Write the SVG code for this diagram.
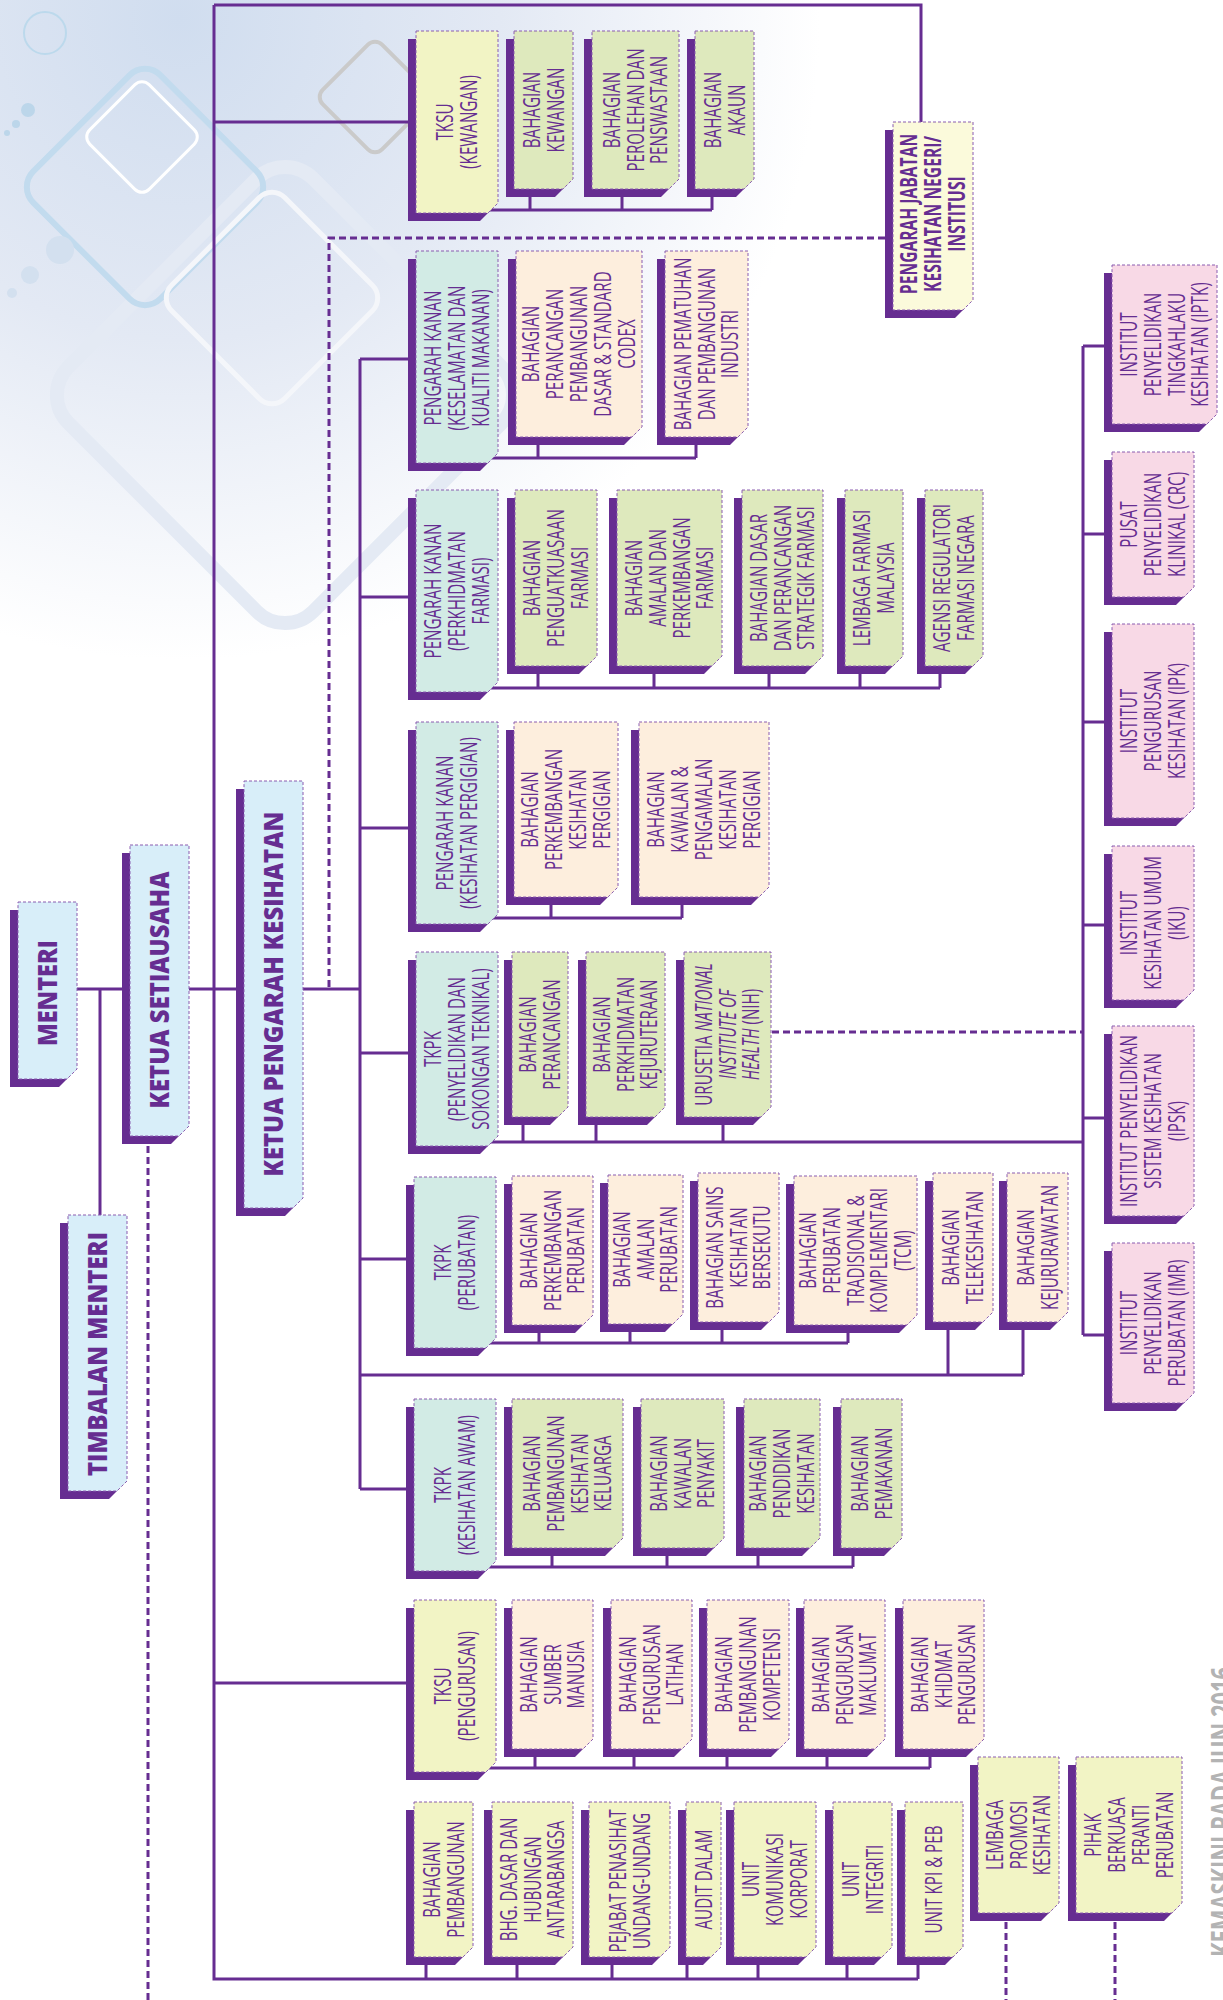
<svg xmlns="http://www.w3.org/2000/svg" width="1223" height="2000" viewBox="0 0 1223 2000">
<defs>
<radialGradient id="bgg" gradientUnits="userSpaceOnUse" cx="180" cy="20" r="640">
<stop offset="0" stop-color="#d0ddef"/>
<stop offset="0.5" stop-color="#e3e9f4"/>
<stop offset="1" stop-color="#ffffff"/>
</radialGradient>
<style>
.s{fill:#662d91}
.b{stroke:#8a5cb0;stroke-width:1;stroke-dasharray:3 2}
.bl{fill:#d8eef9}.ye{fill:#f2f4c5}.py{fill:#fbfadb}.te{fill:#d2ebe5}.gr{fill:#dee9bd}.pe{fill:#fdeedd}.pk{fill:#f8d9e6}
.t{font-family:"Open Sans","Liberation Sans",sans-serif;font-size:23px;fill:#662d91;text-anchor:middle}
.tb{font-family:"Open Sans","Liberation Sans",sans-serif;font-size:26px;font-weight:800;fill:#662d91;text-anchor:middle}
.ln{fill:none;stroke:#662d91;stroke-width:3}
.dl{fill:none;stroke:#662d91;stroke-width:3;stroke-dasharray:7 4}
</style>
</defs>
<rect width="1223" height="2000" fill="#ffffff"/>
<g id="background">
<rect x="0" y="0" width="860" height="720" fill="url(#bgg)"/>
<rect x="-173" y="-173" width="346" height="346" rx="40" transform="translate(285 395) rotate(45)" fill="none" stroke="#e4eaf4" stroke-width="14"/>
<rect x="-90" y="-90" width="180" height="180" rx="22" transform="translate(145 187) rotate(45)" fill="none" stroke="#c2dbee" stroke-width="6"/>
<rect x="-42" y="-42" width="84" height="84" rx="10" transform="translate(142 137) rotate(45)" fill="none" stroke="#ffffff" stroke-width="3"/>
<rect x="-80" y="-80" width="160" height="160" rx="18" transform="translate(272 298) rotate(45)" fill="none" stroke="#f4f6fa" stroke-width="5"/>
<rect x="-42" y="-42" width="84" height="84" rx="10" transform="translate(375 97) rotate(45)" fill="none" stroke="#cacaca" stroke-width="4"/>
<circle cx="45" cy="33" r="21" fill="none" stroke="#bcd9ec" stroke-width="2"/>
<circle cx="28" cy="110" r="7" fill="#bcd6ea"/>
<circle cx="16" cy="124" r="4" fill="#bcd6ea"/>
<circle cx="7" cy="133" r="3" fill="#bcd6ea"/>
<circle cx="60" cy="250" r="14" fill="#d3e0ef"/>
<circle cx="30" cy="275" r="9" fill="#d3e0ef"/>
<circle cx="12" cy="293" r="5" fill="#d3e0ef"/>
</g>
<g id="connectors">
<path class="ln" d="M214 5H921V122"/>
<path class="ln" d="M214 5V1979H918"/>
<path class="ln" d="M214 122H408"/>
<path class="ln" d="M214 1683H406"/>
<path class="ln" d="M77 989H360"/>
<path class="ln" d="M100 989V1215"/>
<path class="ln" d="M360 359V1489"/>
<path class="ln" d="M360 359H408M360 597H408M360 828H408M360 1053H408M360 1259H406M360 1489H406"/>
<path class="ln" d="M360 1375H1023"/>
<path class="ln" d="M490 210H712M530 189V210M622 189V210M712 189V210"/>
<path class="ln" d="M490 458H696M538 437V458M696 437V458"/>
<path class="ln" d="M490 688H940M538 666V688M654 666V688M769 666V688M860 666V688M940 666V688"/>
<path class="ln" d="M490 918H682M551 897V918M682 897V918"/>
<path class="ln" d="M490 1142H1083M523 1117V1142M596 1117V1142M723 1117V1142"/>
<path class="ln" d="M488 1343H848M539 1325V1343M630 1324V1343M722 1322V1343M848 1325V1343"/>
<path class="ln" d="M948 1322V1375M1023 1322V1375"/>
<path class="ln" d="M488 1567H853M552 1548V1567M667 1548V1567M758 1548V1567M853 1548V1567"/>
<path class="ln" d="M488 1768H930M535 1749V1768M634 1749V1768M727 1749V1768M827 1749V1768M930 1749V1768"/>
<path class="ln" d="M426 1957V1979M517 1957V1979M612 1957V1979M687 1957V1979M758 1957V1979M847 1957V1979M918 1957V1979"/>
<path class="ln" d="M1083 346V1335M1083 346H1104M1083 534H1104M1083 722H1104M1083 925H1104M1083 1118H1104M1083 1335H1104"/>
<path class="dl" d="M329 987V238H885"/>
<path class="dl" d="M148 1146V2000"/>
<path class="dl" d="M772 1032H1083"/>
<path class="dl" d="M1006 1922V2000"/>
<path class="dl" d="M1115 1922V2000"/>
</g>
<g id="menteri"><path class="s" d="M10 910H69V1077L59 1087H10Z"/><path class="b bl" d="M18 902H77V1069L67 1079H18Z"/><g transform="translate(47.5 993) rotate(-90)"><text class="tb" x="0" y="9" textLength="106" lengthAdjust="spacingAndGlyphs">MENTERI</text></g></g>
<g id="ketua-setiausaha"><path class="s" d="M122 853H181V1134L171 1144H122Z"/><path class="b bl" d="M130 845H189V1126L179 1136H130Z"/><g transform="translate(159.5 990) rotate(-90)"><text class="tb" x="0" y="9" textLength="237" lengthAdjust="spacingAndGlyphs">KETUA SETIAUSAHA</text></g></g>
<g id="ketua-pengarah-kesihatan"><path class="s" d="M236 789H295V1206L285 1216H236Z"/><path class="b bl" d="M244 781H303V1198L293 1208H244Z"/><g transform="translate(274 994) rotate(-90)"><text class="tb" x="0" y="9" textLength="365" lengthAdjust="spacingAndGlyphs">KETUA PENGARAH KESIHATAN</text></g></g>
<g id="timbalan-menteri"><path class="s" d="M60 1223H119V1489L109 1499H60Z"/><path class="b bl" d="M68 1215H127V1481L117 1491H68Z"/><g transform="translate(97.5 1354) rotate(-90)"><text class="tb" x="0" y="9" textLength="244" lengthAdjust="spacingAndGlyphs">TIMBALAN MENTERI</text></g></g>
<g id="tksu-kewangan"><path class="s" d="M408 39H490V211L480 221H408Z"/><path class="b ye" d="M416 31H498V203L488 213H416Z"/><g transform="translate(457 122) rotate(-90) scale(.66 1)"><text class="t"><tspan x="0" y="-4">TKSU</tspan><tspan x="0" y="20">(KEWANGAN)</tspan></text></g></g>
<g id="bhg-kewangan"><path class="s" d="M506 39H565V187L555 197H506Z"/><path class="b gr" d="M514 31H573V179L563 189H514Z"/><g transform="translate(543.5 110) rotate(-90) scale(.66 1)"><text class="t"><tspan x="0" y="-4">BAHAGIAN</tspan><tspan x="0" y="20">KEWANGAN</tspan></text></g></g>
<g id="bhg-perolehan"><path class="s" d="M584 39H671V187L661 197H584Z"/><path class="b gr" d="M592 31H679V179L669 189H592Z"/><g transform="translate(635.5 110) rotate(-90) scale(.66 1)"><text class="t"><tspan x="0" y="-16">BAHAGIAN</tspan><tspan x="0" y="8">PEROLEHAN DAN</tspan><tspan x="0" y="32">PENSWASTAAN</tspan></text></g></g>
<g id="bhg-akaun"><path class="s" d="M687 39H746V187L736 197H687Z"/><path class="b gr" d="M695 31H754V179L744 189H695Z"/><g transform="translate(724.5 110) rotate(-90) scale(.66 1)"><text class="t"><tspan x="0" y="-4">BAHAGIAN</tspan><tspan x="0" y="20">AKAUN</tspan></text></g></g>
<g id="pengarah-jabatan"><path class="s" d="M885 130H965V308L955 318H885Z"/><path class="b py" d="M893 122H973V300L963 310H893Z"/><g transform="translate(933 214) rotate(-90) scale(.68 1)"><text class="t" font-weight="700"><tspan x="0" y="-16">PENGARAH JABATAN</tspan><tspan x="0" y="8">KESIHATAN NEGERI/</tspan><tspan x="0" y="32">INSTITUSI</tspan></text></g></g>
<g id="pk-keselamatan"><path class="s" d="M408 259H490V461L480 471H408Z"/><path class="b te" d="M416 251H498V453L488 463H416Z"/><g transform="translate(457 358) rotate(-90) scale(.66 1)"><text class="t"><tspan x="0" y="-16">PENGARAH KANAN</tspan><tspan x="0" y="8">(KESELAMATAN DAN</tspan><tspan x="0" y="32">KUALITI MAKANAN)</tspan></text></g></g>
<g id="bhg-perancangan-codex"><path class="s" d="M508 259H634V435L624 445H508Z"/><path class="b pe" d="M516 251H642V427L632 437H516Z"/><g transform="translate(579 344) rotate(-90) scale(.66 1)"><text class="t"><tspan x="0" y="-40">BAHAGIAN</tspan><tspan x="0" y="-16">PERANCANGAN</tspan><tspan x="0" y="8">PEMBANGUNAN</tspan><tspan x="0" y="32">DASAR &amp; STANDARD</tspan><tspan x="0" y="56">CODEX</tspan></text></g></g>
<g id="bhg-pematuhan"><path class="s" d="M657 259H740V435L730 445H657Z"/><path class="b pe" d="M665 251H748V427L738 437H665Z"/><g transform="translate(706.5 344) rotate(-90) scale(.66 1)"><text class="t"><tspan x="0" y="-16">BAHAGIAN PEMATUHAN</tspan><tspan x="0" y="8">DAN PEMBANGUNAN</tspan><tspan x="0" y="32">INDUSTRI</tspan></text></g></g>
<g id="pk-farmasi"><path class="s" d="M408 498H490V690L480 700H408Z"/><path class="b te" d="M416 490H498V682L488 692H416Z"/><g transform="translate(457 591) rotate(-90) scale(.66 1)"><text class="t"><tspan x="0" y="-16">PENGARAH KANAN</tspan><tspan x="0" y="8">(PERKHIDMATAN</tspan><tspan x="0" y="32">FARMASI)</tspan></text></g></g>
<g id="bhg-penguatkuasaan"><path class="s" d="M507 498H589V664L579 674H507Z"/><path class="b gr" d="M515 490H597V656L587 666H515Z"/><g transform="translate(556 578) rotate(-90) scale(.66 1)"><text class="t"><tspan x="0" y="-16">BAHAGIAN</tspan><tspan x="0" y="8">PENGUATKUASAAN</tspan><tspan x="0" y="32">FARMASI</tspan></text></g></g>
<g id="bhg-amalan-farmasi"><path class="s" d="M609 498H714V664L704 674H609Z"/><path class="b gr" d="M617 490H722V656L712 666H617Z"/><g transform="translate(669.5 578) rotate(-90) scale(.66 1)"><text class="t"><tspan x="0" y="-28">BAHAGIAN</tspan><tspan x="0" y="-4">AMALAN DAN</tspan><tspan x="0" y="20">PERKEMBANGAN</tspan><tspan x="0" y="44">FARMASI</tspan></text></g></g>
<g id="bhg-dasar-farmasi"><path class="s" d="M734 498H815V664L805 674H734Z"/><path class="b gr" d="M742 490H823V656L813 666H742Z"/><g transform="translate(782.5 578) rotate(-90) scale(.66 1)"><text class="t"><tspan x="0" y="-16">BAHAGIAN DASAR</tspan><tspan x="0" y="8">DAN PERANCANGAN</tspan><tspan x="0" y="32">STRATEGIK FARMASI</tspan></text></g></g>
<g id="lembaga-farmasi"><path class="s" d="M837 498H895V664L885 674H837Z"/><path class="b gr" d="M845 490H903V656L893 666H845Z"/><g transform="translate(874 578) rotate(-90) scale(.66 1)"><text class="t"><tspan x="0" y="-4">LEMBAGA FARMASI</tspan><tspan x="0" y="20">MALAYSIA</tspan></text></g></g>
<g id="agensi-regulatori"><path class="s" d="M917 498H975V664L965 674H917Z"/><path class="b gr" d="M925 490H983V656L973 666H925Z"/><g transform="translate(954 578) rotate(-90) scale(.66 1)"><text class="t"><tspan x="0" y="-4">AGENSI REGULATORI</tspan><tspan x="0" y="20">FARMASI NEGARA</tspan></text></g></g>
<g id="pk-pergigian"><path class="s" d="M408 730H490V922L480 932H408Z"/><path class="b te" d="M416 722H498V914L488 924H416Z"/><g transform="translate(457 823) rotate(-90) scale(.66 1)"><text class="t"><tspan x="0" y="-4">PENGARAH KANAN</tspan><tspan x="0" y="20">(KESIHATAN PERGIGIAN)</tspan></text></g></g>
<g id="bhg-perkembangan-pergigian"><path class="s" d="M506 730H610V895L600 905H506Z"/><path class="b pe" d="M514 722H618V887L608 897H514Z"/><g transform="translate(566 809.5) rotate(-90) scale(.66 1)"><text class="t"><tspan x="0" y="-28">BAHAGIAN</tspan><tspan x="0" y="-4">PERKEMBANGAN</tspan><tspan x="0" y="20">KESIHATAN</tspan><tspan x="0" y="44">PERGIGIAN</tspan></text></g></g>
<g id="bhg-kawalan-pergigian"><path class="s" d="M631 730H761V895L751 905H631Z"/><path class="b pe" d="M639 722H769V887L759 897H639Z"/><g transform="translate(704 809.5) rotate(-90) scale(.66 1)"><text class="t"><tspan x="0" y="-40">BAHAGIAN</tspan><tspan x="0" y="-16">KAWALAN &amp;</tspan><tspan x="0" y="8">PENGAMALAN</tspan><tspan x="0" y="32">KESIHATAN</tspan><tspan x="0" y="56">PERGIGIAN</tspan></text></g></g>
<g id="tkpk-penyelidikan"><path class="s" d="M408 960H490V1144L480 1154H408Z"/><path class="b te" d="M416 952H498V1136L488 1146H416Z"/><g transform="translate(457 1049) rotate(-90) scale(.66 1)"><text class="t"><tspan x="0" y="-16">TKPK</tspan><tspan x="0" y="8">(PENYELIDIKAN DAN</tspan><tspan x="0" y="32">SOKONGAN TEKNIKAL)</tspan></text></g></g>
<g id="bhg-perancangan"><path class="s" d="M504 960H560V1115L550 1125H504Z"/><path class="b gr" d="M512 952H568V1107L558 1117H512Z"/><g transform="translate(540 1034.5) rotate(-90) scale(.66 1)"><text class="t"><tspan x="0" y="-4">BAHAGIAN</tspan><tspan x="0" y="20">PERANCANGAN</tspan></text></g></g>
<g id="bhg-kejuruteraan"><path class="s" d="M578 960H657V1115L647 1125H578Z"/><path class="b gr" d="M586 952H665V1107L655 1117H586Z"/><g transform="translate(625.5 1034.5) rotate(-90) scale(.66 1)"><text class="t"><tspan x="0" y="-16">BAHAGIAN</tspan><tspan x="0" y="8">PERKHIDMATAN</tspan><tspan x="0" y="32">KEJURUTERAAN</tspan></text></g></g>
<g id="urusetia-nih"><path class="s" d="M676 960H763V1115L753 1125H676Z"/><path class="b gr" d="M684 952H771V1107L761 1117H684Z"/><g transform="translate(727.5 1034.5) rotate(-90) scale(.66 1)"><text class="t"><tspan x="0" y="-16">URUSETIA <tspan font-style="italic">NATIONAL</tspan></tspan><tspan x="0" y="8" font-style="italic">INSTITUTE OF</tspan><tspan x="0" y="32"><tspan font-style="italic">HEALTH</tspan> (NIH)</tspan></text></g></g>
<g id="tkpk-perubatan"><path class="s" d="M406 1185H488V1346L478 1356H406Z"/><path class="b te" d="M414 1177H496V1338L486 1348H414Z"/><g transform="translate(455 1262.5) rotate(-90) scale(.66 1)"><text class="t"><tspan x="0" y="-4">TKPK</tspan><tspan x="0" y="20">(PERUBATAN)</tspan></text></g></g>
<g id="bhg-perkembangan-perubatan"><path class="s" d="M504 1184H585V1323L575 1333H504Z"/><path class="b pe" d="M512 1176H593V1315L583 1325H512Z"/><g transform="translate(552.5 1250.5) rotate(-90) scale(.66 1)"><text class="t"><tspan x="0" y="-16">BAHAGIAN</tspan><tspan x="0" y="8">PERKEMBANGAN</tspan><tspan x="0" y="32">PERUBATAN</tspan></text></g></g>
<g id="bhg-amalan-perubatan"><path class="s" d="M600 1183H675V1322L665 1332H600Z"/><path class="b pe" d="M608 1175H683V1314L673 1324H608Z"/><g transform="translate(645.5 1249.5) rotate(-90) scale(.66 1)"><text class="t"><tspan x="0" y="-16">BAHAGIAN</tspan><tspan x="0" y="8">AMALAN</tspan><tspan x="0" y="32">PERUBATAN</tspan></text></g></g>
<g id="bhg-sains"><path class="s" d="M690 1181H771V1320L761 1330H690Z"/><path class="b pe" d="M698 1173H779V1312L769 1322H698Z"/><g transform="translate(738.5 1247.5) rotate(-90) scale(.66 1)"><text class="t"><tspan x="0" y="-16">BAHAGIAN SAINS</tspan><tspan x="0" y="8">KESIHATAN</tspan><tspan x="0" y="32">BERSEKUTU</tspan></text></g></g>
<g id="bhg-tcm"><path class="s" d="M786 1184H909V1323L899 1333H786Z"/><path class="b pe" d="M794 1176H917V1315L907 1325H794Z"/><g transform="translate(855.5 1250.5) rotate(-90) scale(.66 1)"><text class="t"><tspan x="0" y="-40">BAHAGIAN</tspan><tspan x="0" y="-16">PERUBATAN</tspan><tspan x="0" y="8">TRADISIONAL &amp;</tspan><tspan x="0" y="32">KOMPLEMENTARI</tspan><tspan x="0" y="56">(TCM)</tspan></text></g></g>
<g id="bhg-telekesihatan"><path class="s" d="M925 1181H985V1320L975 1330H925Z"/><path class="b pe" d="M933 1173H993V1312L983 1322H933Z"/><g transform="translate(963 1247.5) rotate(-90) scale(.66 1)"><text class="t"><tspan x="0" y="-4">BAHAGIAN</tspan><tspan x="0" y="20">TELEKESIHATAN</tspan></text></g></g>
<g id="bhg-kejururawatan"><path class="s" d="M999 1181H1060V1320L1050 1330H999Z"/><path class="b pe" d="M1007 1173H1068V1312L1058 1322H1007Z"/><g transform="translate(1037.5 1247.5) rotate(-90) scale(.66 1)"><text class="t"><tspan x="0" y="-4">BAHAGIAN</tspan><tspan x="0" y="20">KEJURURAWATAN</tspan></text></g></g>
<g id="tkpk-kesihatan-awam"><path class="s" d="M406 1407H488V1569L478 1579H406Z"/><path class="b te" d="M414 1399H496V1561L486 1571H414Z"/><g transform="translate(455 1485) rotate(-90) scale(.66 1)"><text class="t"><tspan x="0" y="-4">TKPK</tspan><tspan x="0" y="20">(KESIHATAN AWAM)</tspan></text></g></g>
<g id="bhg-keluarga"><path class="s" d="M504 1407H615V1546L605 1556H504Z"/><path class="b gr" d="M512 1399H623V1538L613 1548H512Z"/><g transform="translate(567.5 1473.5) rotate(-90) scale(.66 1)"><text class="t"><tspan x="0" y="-28">BAHAGIAN</tspan><tspan x="0" y="-4">PEMBANGUNAN</tspan><tspan x="0" y="20">KESIHATAN</tspan><tspan x="0" y="44">KELUARGA</tspan></text></g></g>
<g id="bhg-kawalan-penyakit"><path class="s" d="M633 1407H716V1546L706 1556H633Z"/><path class="b gr" d="M641 1399H724V1538L714 1548H641Z"/><g transform="translate(682.5 1473.5) rotate(-90) scale(.66 1)"><text class="t"><tspan x="0" y="-16">BAHAGIAN</tspan><tspan x="0" y="8">KAWALAN</tspan><tspan x="0" y="32">PENYAKIT</tspan></text></g></g>
<g id="bhg-pendidikan"><path class="s" d="M736 1407H812V1546L802 1556H736Z"/><path class="b gr" d="M744 1399H820V1538L810 1548H744Z"/><g transform="translate(782 1473.5) rotate(-90) scale(.66 1)"><text class="t"><tspan x="0" y="-16">BAHAGIAN</tspan><tspan x="0" y="8">PENDIDIKAN</tspan><tspan x="0" y="32">KESIHATAN</tspan></text></g></g>
<g id="bhg-pemakanan"><path class="s" d="M833 1407H894V1546L884 1556H833Z"/><path class="b gr" d="M841 1399H902V1538L892 1548H841Z"/><g transform="translate(871.5 1473.5) rotate(-90) scale(.66 1)"><text class="t"><tspan x="0" y="-4">BAHAGIAN</tspan><tspan x="0" y="20">PEMAKANAN</tspan></text></g></g>
<g id="tksu-pengurusan"><path class="s" d="M406 1608H488V1770L478 1780H406Z"/><path class="b ye" d="M414 1600H496V1762L486 1772H414Z"/><g transform="translate(455 1686) rotate(-90) scale(.66 1)"><text class="t"><tspan x="0" y="-4">TKSU</tspan><tspan x="0" y="20">(PENGURUSAN)</tspan></text></g></g>
<g id="bhg-sumber-manusia"><path class="s" d="M504 1608H585V1747L575 1757H504Z"/><path class="b pe" d="M512 1600H593V1739L583 1749H512Z"/><g transform="translate(552.5 1674.5) rotate(-90) scale(.66 1)"><text class="t"><tspan x="0" y="-16">BAHAGIAN</tspan><tspan x="0" y="8">SUMBER</tspan><tspan x="0" y="32">MANUSIA</tspan></text></g></g>
<g id="bhg-latihan"><path class="s" d="M603 1608H684V1747L674 1757H603Z"/><path class="b pe" d="M611 1600H692V1739L682 1749H611Z"/><g transform="translate(651.5 1674.5) rotate(-90) scale(.66 1)"><text class="t"><tspan x="0" y="-16">BAHAGIAN</tspan><tspan x="0" y="8">PENGURUSAN</tspan><tspan x="0" y="32">LATIHAN</tspan></text></g></g>
<g id="bhg-kompetensi"><path class="s" d="M699 1608H781V1747L771 1757H699Z"/><path class="b pe" d="M707 1600H789V1739L779 1749H707Z"/><g transform="translate(748 1674.5) rotate(-90) scale(.66 1)"><text class="t"><tspan x="0" y="-16">BAHAGIAN</tspan><tspan x="0" y="8">PEMBANGUNAN</tspan><tspan x="0" y="32">KOMPETENSI</tspan></text></g></g>
<g id="bhg-maklumat"><path class="s" d="M796 1608H877V1747L867 1757H796Z"/><path class="b pe" d="M804 1600H885V1739L875 1749H804Z"/><g transform="translate(844.5 1674.5) rotate(-90) scale(.66 1)"><text class="t"><tspan x="0" y="-16">BAHAGIAN</tspan><tspan x="0" y="8">PENGURUSAN</tspan><tspan x="0" y="32">MAKLUMAT</tspan></text></g></g>
<g id="bhg-khidmat"><path class="s" d="M895 1608H976V1747L966 1757H895Z"/><path class="b pe" d="M903 1600H984V1739L974 1749H903Z"/><g transform="translate(943.5 1674.5) rotate(-90) scale(.66 1)"><text class="t"><tspan x="0" y="-16">BAHAGIAN</tspan><tspan x="0" y="8">KHIDMAT</tspan><tspan x="0" y="32">PENGURUSAN</tspan></text></g></g>
<g id="bhg-pembangunan"><path class="s" d="M406 1810H465V1955L455 1965H406Z"/><path class="b ye" d="M414 1802H473V1947L463 1957H414Z"/><g transform="translate(443.5 1879.5) rotate(-90) scale(.66 1)"><text class="t"><tspan x="0" y="-4">BAHAGIAN</tspan><tspan x="0" y="20">PEMBANGUNAN</tspan></text></g></g>
<g id="bhg-dasar-antarabangsa"><path class="s" d="M484 1810H565V1955L555 1965H484Z"/><path class="b ye" d="M492 1802H573V1947L563 1957H492Z"/><g transform="translate(532.5 1879.5) rotate(-90) scale(.66 1)"><text class="t"><tspan x="0" y="-16">BHG. DASAR DAN</tspan><tspan x="0" y="8">HUBUNGAN</tspan><tspan x="0" y="32">ANTARABANGSA</tspan></text></g></g>
<g id="pejabat-penasihat"><path class="s" d="M581 1810H662V1955L652 1965H581Z"/><path class="b ye" d="M589 1802H670V1947L660 1957H589Z"/><g transform="translate(629.5 1881) rotate(-90) scale(.66 1)"><text class="t"><tspan x="0" y="-4">PEJABAT PENASIHAT</tspan><tspan x="0" y="20">UNDANG-UNDANG</tspan></text></g></g>
<g id="audit-dalam"><path class="s" d="M678 1810H713V1955L703 1965H678Z"/><path class="b ye" d="M686 1802H721V1947L711 1957H686Z"/><g transform="translate(703.5 1879.5) rotate(-90) scale(.66 1)"><text class="t"><tspan x="0" y="8">AUDIT DALAM</tspan></text></g></g>
<g id="unit-komunikasi"><path class="s" d="M726 1810H808V1955L798 1965H726Z"/><path class="b ye" d="M734 1802H816V1947L806 1957H734Z"/><g transform="translate(775 1879.5) rotate(-90) scale(.66 1)"><text class="t"><tspan x="0" y="-16">UNIT</tspan><tspan x="0" y="8">KOMUNIKASI</tspan><tspan x="0" y="32">KORPORAT</tspan></text></g></g>
<g id="unit-integriti"><path class="s" d="M825 1810H884V1955L874 1965H825Z"/><path class="b ye" d="M833 1802H892V1947L882 1957H833Z"/><g transform="translate(862.5 1879.5) rotate(-90) scale(.66 1)"><text class="t"><tspan x="0" y="-4">UNIT</tspan><tspan x="0" y="20">INTEGRITI</tspan></text></g></g>
<g id="unit-kpi"><path class="s" d="M897 1810H955V1955L945 1965H897Z"/><path class="b ye" d="M905 1802H963V1947L953 1957H905Z"/><g transform="translate(934 1879.5) rotate(-90) scale(.66 1)"><text class="t"><tspan x="0" y="8">UNIT KPI &amp; PEB</tspan></text></g></g>
<g id="lembaga-promosi"><path class="s" d="M970 1765H1051V1911L1041 1921H970Z"/><path class="b ye" d="M978 1757H1059V1903L1049 1913H978Z"/><g transform="translate(1018.5 1835) rotate(-90) scale(.66 1)"><text class="t"><tspan x="0" y="-16">LEMBAGA</tspan><tspan x="0" y="8">PROMOSI</tspan><tspan x="0" y="32">KESIHATAN</tspan></text></g></g>
<g id="pihak-berkuasa"><path class="s" d="M1068 1765H1174V1911L1164 1921H1068Z"/><path class="b ye" d="M1076 1757H1182V1903L1172 1913H1076Z"/><g transform="translate(1129 1835) rotate(-90) scale(.66 1)"><text class="t"><tspan x="0" y="-28">PIHAK</tspan><tspan x="0" y="-4">BERKUASA</tspan><tspan x="0" y="20">PERANTI</tspan><tspan x="0" y="44">PERUBATAN</tspan></text></g></g>
<g id="iptk"><path class="s" d="M1104 273H1209V422L1199 432H1104Z"/><path class="b pk" d="M1112 265H1217V414L1207 424H1112Z"/><g transform="translate(1164.5 344.5) rotate(-90) scale(.66 1)"><text class="t"><tspan x="0" y="-28">INSTITUT</tspan><tspan x="0" y="-4">PENYELIDIKAN</tspan><tspan x="0" y="20">TINGKAHLAKU</tspan><tspan x="0" y="44">KESIHATAN (IPTK)</tspan></text></g></g>
<g id="crc"><path class="s" d="M1104 460H1186V595L1176 605H1104Z"/><path class="b pk" d="M1112 452H1194V587L1184 597H1112Z"/><g transform="translate(1153 524.5) rotate(-90) scale(.66 1)"><text class="t"><tspan x="0" y="-16">PUSAT</tspan><tspan x="0" y="8">PENYELIDIKAN</tspan><tspan x="0" y="32">KLINIKAL (CRC)</tspan></text></g></g>
<g id="ipk"><path class="s" d="M1104 632H1186V816L1176 826H1104Z"/><path class="b pk" d="M1112 624H1194V808L1184 818H1112Z"/><g transform="translate(1153 721) rotate(-90) scale(.66 1)"><text class="t"><tspan x="0" y="-16">INSTITUT</tspan><tspan x="0" y="8">PENGURUSAN</tspan><tspan x="0" y="32">KESIHATAN (IPK)</tspan></text></g></g>
<g id="iku"><path class="s" d="M1104 854H1186V998L1176 1008H1104Z"/><path class="b pk" d="M1112 846H1194V990L1184 1000H1112Z"/><g transform="translate(1153 923) rotate(-90) scale(.66 1)"><text class="t"><tspan x="0" y="-16">INSTITUT</tspan><tspan x="0" y="8">KESIHATAN UMUM</tspan><tspan x="0" y="32">(IKU)</tspan></text></g></g>
<g id="ipsk"><path class="s" d="M1104 1034H1186V1214L1176 1224H1104Z"/><path class="b pk" d="M1112 1026H1194V1206L1184 1216H1112Z"/><g transform="translate(1153 1121) rotate(-90) scale(.66 1)"><text class="t"><tspan x="0" y="-16">INSTITUT PENYELIDIKAN</tspan><tspan x="0" y="8">SISTEM KESIHATAN</tspan><tspan x="0" y="32">(IPSK)</tspan></text></g></g>
<g id="imr"><path class="s" d="M1104 1251H1186V1401L1176 1411H1104Z"/><path class="b pk" d="M1112 1243H1194V1393L1184 1403H1112Z"/><g transform="translate(1153 1323) rotate(-90) scale(.66 1)"><text class="t"><tspan x="0" y="-16">INSTITUT</tspan><tspan x="0" y="8">PENYELIDIKAN</tspan><tspan x="0" y="32">PERUBATAN (IMR)</tspan></text></g></g>
<g id="kemaskini"><g transform="translate(1233 1812) rotate(-90)"><text x="0" y="0" font-family="Open Sans, Liberation Sans, sans-serif" font-size="30" font-weight="700" fill="#b3b3b3" text-anchor="middle" textLength="290" lengthAdjust="spacingAndGlyphs">KEMASKINI PADA JUN 2016</text></g></g>
</svg>
